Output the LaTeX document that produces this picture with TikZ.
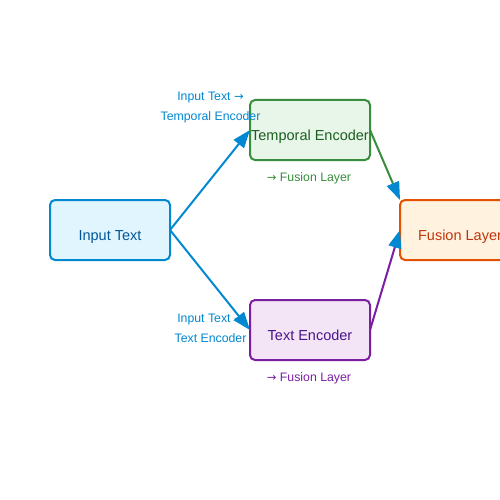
\documentclass[tikz,border=0pt]{standalone}
\usepackage{fontspec}
\setmainfont{Liberation Sans}
\newfontfamily\arrfont{DejaVu Sans}
\newcommand{\rar}{{\arrfont\fontsize{11.5}{20}\selectfont →}}
\usetikzlibrary{arrows.meta}
\definecolor{inb}{HTML}{0288D1}
\definecolor{inf}{HTML}{E1F5FE}
\definecolor{int}{HTML}{01579B}
\definecolor{grb}{HTML}{388E3C}
\definecolor{grf}{HTML}{E8F5E9}
\definecolor{grt}{HTML}{1B5E20}
\definecolor{pub}{HTML}{7B1FA2}
\definecolor{puf}{HTML}{F3E5F5}
\definecolor{put}{HTML}{4A148C}
\definecolor{orb}{HTML}{E65100}
\definecolor{orf}{HTML}{FFF3E0}
\definecolor{ort}{HTML}{BF360C}
\tikzset{
  box/.style={draw, line width=2pt, rounded corners=5pt, minimum width=120pt, minimum height=60pt,
    inner sep=0pt, outer sep=0pt, font=\fontsize{14.5}{16}\selectfont, text height=20pt, text depth=0pt},
  lbl/.style={font=\fontsize{12.3}{20}\selectfont, align=center, inner sep=0pt},
  conn/.style={line width=2pt, -{Triangle[length=18pt,width=13pt,color=inb]}}
}
\begin{document}
\begin{tikzpicture}[x=1pt,y=-1pt]
\useasboundingbox (0,0) rectangle (500,500);
\clip (0,0) rectangle (500,500);
\fill[white] (0,0) rectangle (500,500);
\node[box, draw=inb, fill=inf, text=int] (in) at (110,230) {Input Text};
\node[box, draw=grb, fill=grf, text=grt] (te) at (310,130) {Temporal Encoder};
\node[box, draw=pub, fill=puf, text=put] (tx) at (310,330) {Text Encoder};
\node[box, draw=orb, fill=orf, text=ort] (fu) at (460,230) {Fusion Layer};
\node[lbl, text=inb] (l1) at (210.5,108) {Input Text \rar\\Temporal Encoder};
\node[lbl, text=inb] (l2) at (210.5,328) {Input Text \rar\\Text Encoder};
\node[lbl, text=grb] (l3) at (309,178) {\rar\ Fusion Layer};
\node[lbl, text=pub] (l4) at (309,378) {\rar\ Fusion Layer};
\draw[conn, inb] (in.east) -- (te.west);
\draw[conn, inb] (in.east) -- (tx.west);
\draw[conn, grb] (te.east) -- (fu.north west);
\draw[conn, pub] (tx.east) -- (fu.west);
\end{tikzpicture}
\end{document}
